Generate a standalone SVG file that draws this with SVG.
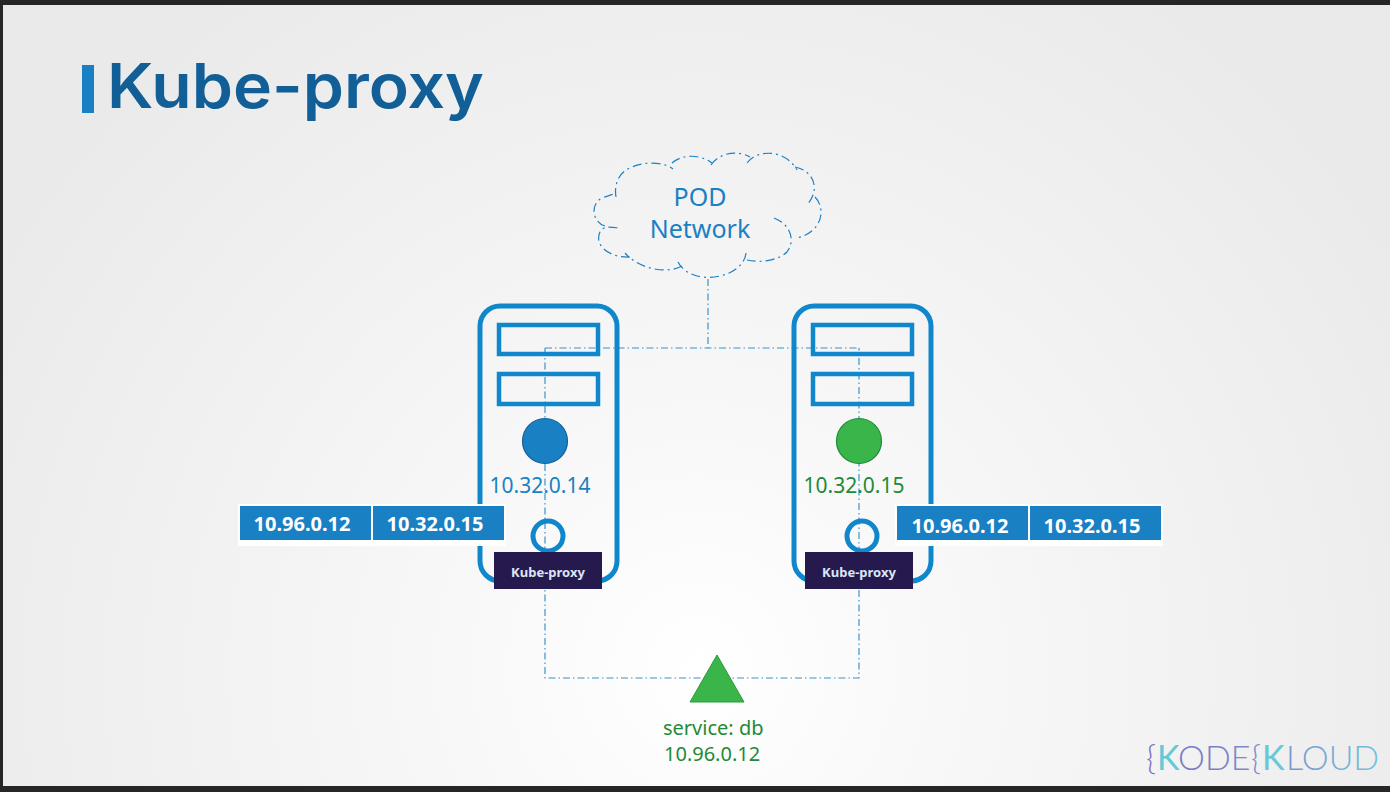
<svg xmlns="http://www.w3.org/2000/svg" width="1390" height="792" viewBox="0 0 1390 792">
<style>
.srv{fill:none;stroke:#0f87ca;stroke-width:5}
.in{fill:none;stroke:#0f87ca;stroke-width:4.5}
.dash{fill:none;stroke:#1b81c5;stroke-width:1.2;stroke-dasharray:7 3 1.5 3;opacity:.85}
.cloud{fill:none;stroke:#1b81c5;stroke-width:1.2;stroke-dasharray:9 4 2 4}
text{font-family:"Noto Sans","Open Sans","Liberation Sans",sans-serif}
.ip{font-size:21px}
.cell{fill:#1980c4}
.ct{font-size:20px;font-weight:700;fill:#fff;text-anchor:middle}
.kp{fill:#25194d}
.kt{font-size:13px;font-weight:700;fill:#dbe6f7;text-anchor:middle}
.g{fill:#1f8a38;font-size:20px}
.lg{font-family:"Lato","Liberation Sans",sans-serif;font-size:34px;font-weight:300;fill:url(#lg)}
.lk{fill:#66c9d6;font-weight:400}
</style>
<defs>
<radialGradient id="bg" gradientUnits="userSpaceOnUse" cx="700" cy="670" r="820">
<stop offset="0" stop-color="#ffffff"/><stop offset="0.3" stop-color="#f8f8f8"/><stop offset="0.7" stop-color="#f0f0f0"/><stop offset="1" stop-color="#eaeaea"/>
</radialGradient>
<linearGradient id="lg" gradientUnits="userSpaceOnUse" x1="1145" y1="0" x2="1380" y2="0">
<stop offset="0" stop-color="#7a70bd"/><stop offset="0.55" stop-color="#7c8fcb"/><stop offset="1" stop-color="#6fc4de"/>
</linearGradient>
</defs>
<rect width="1390" height="792" fill="#262626"/>
<rect x="3" y="5" width="1387" height="781" fill="url(#bg)"/>

<g id="title">
<rect x="82" y="65" width="12" height="48" fill="#1a80c4"/>
<text x="107" y="108" font-size="62" font-weight="600" fill="#125f97" textLength="377" lengthAdjust="spacingAndGlyphs" style="font-family:Inter,'Noto Sans',sans-serif">Kube-proxy</text>
</g>

<g id="connectors">
<path class="dash" d="M708 279V348M545 348H859M545 348V678H859V348"/>
</g>

<g id="pod-network">
<path class="cloud" d="M616 197C614 185 618 172 632 167C646 161 664 162 673 169M672 163C682 154 700 154 712 163M711 165C720 152 738 150 750 157M747 163C757 149 785 149 797 170M795 167C812 170 822 188 807 205M815 197C826 208 823 232 797 238M774 218C790 224 796 240 787 252C777 261 760 263 747 260M746 253C744 272 716 281 697 276C690 274 682 270 678 262M682 266C668 274 640 270 625 253M630 257C612 258 596 248 599 235C601 225 610 227 619 228M605 226C592 222 590 204 602 198C607 196 612 195 616 193"/>
<text x="700" y="206" font-size="25" fill="#1a80c4" text-anchor="middle">POD</text>
<text x="700" y="238" font-size="25" fill="#1a80c4" text-anchor="middle">Network</text>
</g>

<g id="node-left">
<rect class="srv" x="480" y="306" width="137" height="275" rx="20"/>
<rect class="in" x="499" y="325" width="99" height="29"/>
<rect class="in" x="499" y="374" width="99" height="30"/>
<circle cx="545" cy="441" r="22.5" fill="#1980c4" stroke="#175f97" stroke-width="1.2"/>
<text class="ip" x="540" y="493" fill="#1a80c4" text-anchor="middle">10.32.0.14</text>
<circle cx="548" cy="536" r="15" fill="none" stroke="#0f87ca" stroke-width="5"/>
<rect x="238" y="504" width="268" height="42" fill="#fff"/>
<rect class="cell" x="240" y="506" width="131" height="34"/>
<rect class="cell" x="373" y="506" width="131" height="34"/>
<text class="ct" x="302" y="531">10.96.0.12</text>
<text class="ct" x="435" y="531">10.32.0.15</text>
<rect class="kp" x="494" y="552" width="108" height="37"/>
<text class="kt" x="548" y="577">Kube-proxy</text>
</g>

<g id="node-right">
<rect class="srv" x="794" y="306" width="137" height="275" rx="20"/>
<rect class="in" x="813" y="325" width="99" height="29"/>
<rect class="in" x="813" y="374" width="99" height="30"/>
<circle cx="859" cy="441" r="22.5" fill="#3ab54a" stroke="#1f8a38" stroke-width="1.2"/>
<text class="ip" x="854" y="493" fill="#1f8a38" text-anchor="middle">10.32.0.15</text>
<circle cx="862" cy="536" r="15" fill="none" stroke="#0f87ca" stroke-width="5"/>
<rect x="895" y="504" width="268" height="42" fill="#fff"/>
<rect class="cell" x="897" y="506" width="131" height="34"/>
<rect class="cell" x="1030" y="506" width="131" height="34"/>
<text class="ct" x="960" y="533">10.96.0.12</text>
<text class="ct" x="1092" y="533">10.32.0.15</text>
<rect class="kp" x="805" y="552" width="108" height="37"/>
<text class="kt" x="859" y="577">Kube-proxy</text>
</g>

<g id="service-db">
<path d="M717 655L690 702H744Z" fill="#3ab54a" stroke="#2a9a3d" stroke-width="1"/>
<text class="g" x="663" y="735">service: db</text>
<text class="g" x="664" y="761">10.96.0.12</text>
</g>

<g id="logo">
<text class="lg" y="770"><tspan x="1146">{</tspan><tspan x="1157" class="lk">K</tspan><tspan x="1178">ODE</tspan><tspan x="1251">{</tspan><tspan x="1262" class="lk">K</tspan><tspan x="1286">LOUD</tspan></text>
</g>
</svg>
